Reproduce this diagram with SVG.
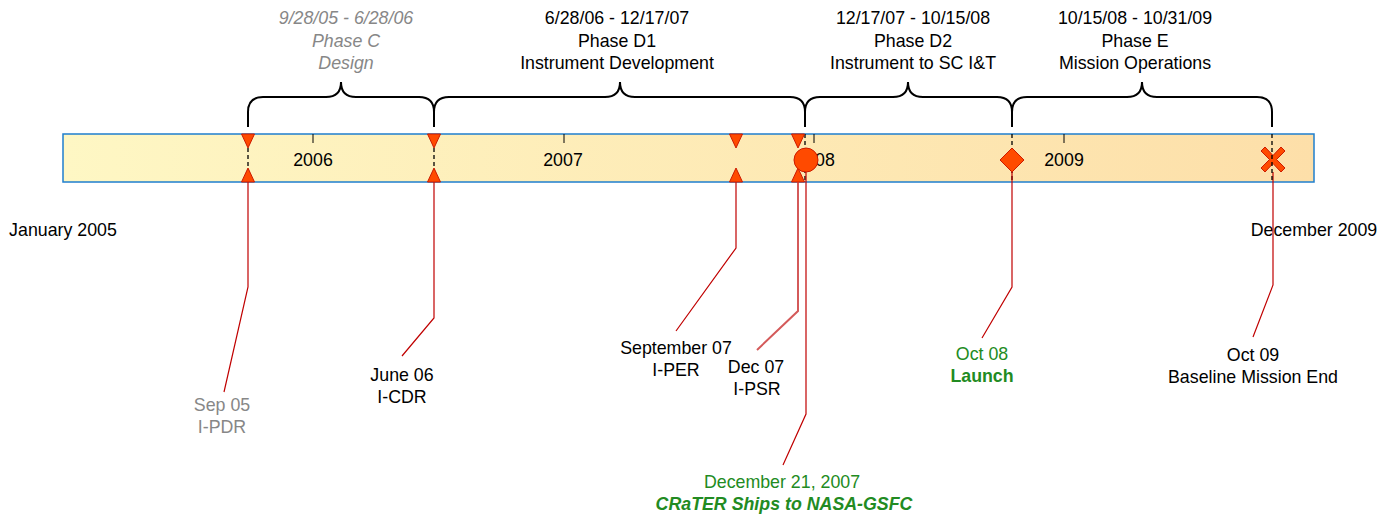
<svg xmlns="http://www.w3.org/2000/svg" width="1380" height="514" viewBox="0 0 1380 514">
<defs>
<linearGradient id="barGrad" x1="0" y1="0" x2="1" y2="0">
<stop offset="0" stop-color="#fef7c4"/>
<stop offset="1" stop-color="#fddfa9"/>
</linearGradient>
<polygon id="triDown" points="-6.5,0 6.5,0 0,14" />
<polygon id="triUp" points="-6.5,0 6.5,0 0,-14" />
</defs>
<style>
text{font-family:"Liberation Sans",Arial,sans-serif;font-size:17.8px;fill:#000;text-anchor:middle}
.gray{fill:#878787;font-style:italic}
.green{fill:#228b22}
.bold{font-weight:bold}
.ital{font-style:italic}
.brace{fill:none;stroke:#000;stroke-width:2}
.dash{stroke:#000;stroke-width:1.3;stroke-dasharray:4 3;fill:none}
.tick{stroke:#000;stroke-width:1}
.lead{fill:none;stroke:#c00000;stroke-width:1.2}
.lead2{fill:none;stroke:#d45a5a;stroke-width:2}
.mk{fill:#ff4a00;stroke:#cc1a00;stroke-width:1}
</style>

<g id="timeline-bar">
<rect x="63" y="134" width="1251" height="48" fill="url(#barGrad)" stroke="#1f7fce" stroke-width="1.5"/>
<line class="tick" x1="313" y1="134" x2="313" y2="143"/>
<line class="tick" x1="564" y1="134" x2="564" y2="143"/>
<line class="tick" x1="814" y1="134" x2="814" y2="143"/>
<line class="tick" x1="1064" y1="134" x2="1064" y2="143"/>
<text x="313" y="166">2006</text>
<text x="563" y="166">2007</text>
<text x="815" y="166">2008</text>
<text x="1064" y="166">2009</text>
<text x="63" y="236">January 2005</text>
<text x="1314" y="236">December 2009</text>
</g>

<g id="phase-c">
<path class="brace" d="M248,127 L248,112 Q248,97 263,97 L326,97 Q341,97 341,82 Q341,97 356,97 L419,97 Q434,97 434,112 L434,127"/>
<text class="gray" x="346" y="24">9/28/05 - 6/28/06</text>
<text class="gray" x="346" y="47">Phase C</text>
<text class="gray" x="346" y="69">Design</text>
</g>
<g id="phase-d1">
<path class="brace" d="M434,127 L434,112 Q434,97 449,97 L605,97 Q620,97 620,82 Q620,97 635,97 L790,97 Q805,97 805,112 L805,127"/>
<text x="617" y="24">6/28/06 - 12/17/07</text>
<text x="617" y="47">Phase D1</text>
<text x="617" y="69">Instrument Development</text>
</g>
<g id="phase-d2">
<path class="brace" d="M805,127 L805,112 Q805,97 820,97 L893,97 Q908,97 908,82 Q908,97 923,97 L997,97 Q1012,97 1012,112 L1012,127"/>
<text x="913" y="24">12/17/07 - 10/15/08</text>
<text x="913" y="47">Phase D2</text>
<text x="913" y="69">Instrument to SC I&amp;T</text>
</g>
<g id="phase-e">
<path class="brace" d="M1012,127 L1012,112 Q1012,97 1027,97 L1127,97 Q1142,97 1142,82 Q1142,97 1157,97 L1257,97 Q1272,97 1272,112 L1272,127"/>
<text x="1135" y="24">10/15/08 - 10/31/09</text>
<text x="1135" y="47">Phase E</text>
<text x="1135" y="69">Mission Operations</text>
</g>

<g id="boundaries">
<line class="dash" x1="248" y1="134" x2="248" y2="182"/>
<line class="dash" x1="434" y1="134" x2="434" y2="182"/>
<line class="dash" x1="805" y1="134" x2="805" y2="182"/>
<line class="dash" x1="1012" y1="134" x2="1012" y2="182"/>
</g>

<g id="connectors">
<polyline class="lead" points="248,182 248,287 224,392"/>
<polyline class="lead" points="434,182 434,318 402,356"/>
<polyline class="lead" points="736,182 736,248 676,331"/>
<polyline class="lead2" points="798,182 798,311 757,350"/>
<polyline class="lead" points="806,172 806,414 783,465"/>
<polyline class="lead" points="1012,172 1012,287 982,338"/>
<polyline class="lead" points="1273,172 1273,285 1253,337"/>
</g>

<g id="ms-sep05">
<use href="#triDown" class="mk" x="248" y="134"/>
<use href="#triUp" class="mk" x="248" y="182"/>
<text class="gray" style="font-style:normal" x="222" y="411">Sep 05</text>
<text class="gray" style="font-style:normal" x="222" y="433">I-PDR</text>
</g>
<g id="ms-jun06">
<use href="#triDown" class="mk" x="434" y="134"/>
<use href="#triUp" class="mk" x="434" y="182"/>
<text x="402" y="381">June 06</text>
<text x="402" y="403">I-CDR</text>
</g>
<g id="ms-sep07">
<use href="#triDown" class="mk" x="736" y="134"/>
<use href="#triUp" class="mk" x="736" y="182"/>
<text x="676" y="354">September 07</text>
<text x="676" y="376">I-PER</text>
</g>
<g id="ms-dec07">
<use href="#triDown" class="mk" x="798" y="134"/>
<use href="#triUp" class="mk" x="798" y="182"/>
<text x="756" y="373">Dec 07</text>
<text x="757" y="395">I-PSR</text>
</g>
<g id="ms-dec21">
<circle class="mk" cx="806" cy="160" r="12" stroke="#c00000"/>
<text class="green" x="782" y="488">December 21, 2007</text>
<text class="green bold ital" x="784" y="510">CRaTER Ships to NASA-GSFC</text>
</g>
<g id="ms-oct08">
<polygon class="mk" points="1012,148 1024,160 1012,172 1000,160"/>
<text class="green" x="982" y="360">Oct 08</text>
<text class="green bold" x="982" y="382">Launch</text>
</g>
<g id="ms-oct09">
<path class="mk" d="M1261,151 L1265,147 L1273,155.5 L1281,147 L1285,151 L1276.5,159.5 L1285,168 L1281,172 L1273,163.5 L1265,172 L1261,168 L1269.5,159.5 Z"/>
<line class="dash" x1="1272" y1="134" x2="1272" y2="182"/>
<text x="1253" y="361">Oct 09</text>
<text x="1253" y="383">Baseline Mission End</text>
</g>
</svg>
